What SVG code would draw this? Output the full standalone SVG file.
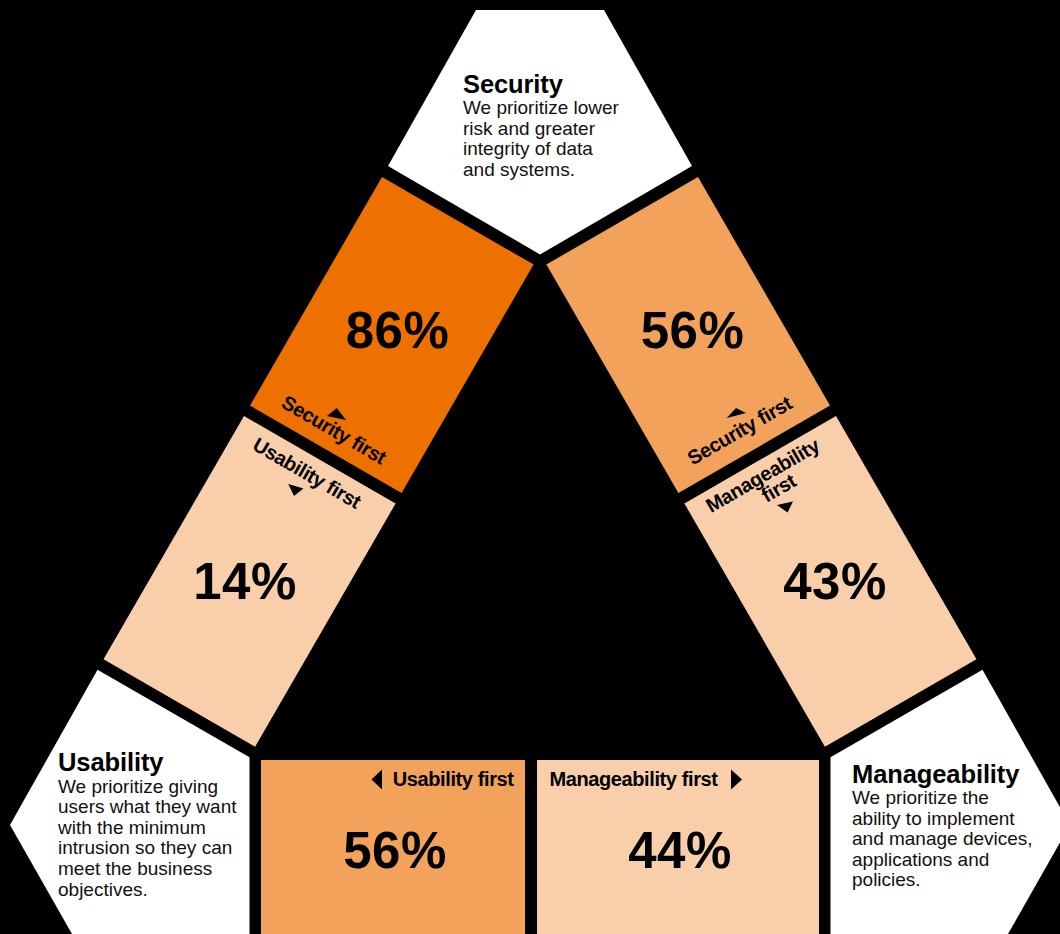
<svg xmlns="http://www.w3.org/2000/svg" width="1060" height="934" viewBox="0 0 1060 934">
  <defs>
    <style>
      .bg { fill: #000000; }
      .white { fill: #FFFFFF; }
      .dark { fill: #EE7100; }
      .mid { fill: #F2A25A; }
      .light { fill: #F9CFAB; }
      .pct { font-family: "Liberation Sans", Arial, sans-serif; font-weight: 700; font-size: 51px; fill: #000; text-anchor: middle; letter-spacing: 0.5px; }
      .lbl { font-family: "Liberation Sans", Arial, sans-serif; font-weight: 700; font-size: 20px; fill: #000; letter-spacing: -0.4px; }
      .mid-a { text-anchor: middle; }
      .end-a { text-anchor: end; }
      .head { font-family: "Liberation Sans", Arial, sans-serif; font-weight: 700; font-size: 25.5px; fill: #000; letter-spacing: -0.1px; }
      .body { font-family: "Liberation Sans", Arial, sans-serif; font-size: 19px; fill: #111; }
      .tri { fill: #000; }
    </style>
  </defs>

  <rect class="bg" x="0" y="0" width="1060" height="934"/>

  <g id="connectors"/>

  <!-- Security node -->
  <g id="node-security">
    <polygon class="white" points="476,10 604,10 692,166 540,254.5 388,166"/>
    <text class="head" x="463" y="93">Security</text>
    <text class="body" x="463" y="114">We prioritize lower</text>
    <text class="body" x="463" y="134.6">risk and greater</text>
    <text class="body" x="463" y="155.2">integrity of data</text>
    <text class="body" x="463" y="175.8">and systems.</text>
  </g>

  <!-- Usability node -->
  <g id="node-usability">
    <polygon class="white" points="97.5,669.7 249.5,757.2 249.5,934 72,934 10,825"/>
    <text class="head" x="58" y="771">Usability</text>
    <text class="body" x="58" y="792.5">We prioritize giving</text>
    <text class="body" x="58" y="813.1">users what they want</text>
    <text class="body" x="58" y="833.7">with the minimum</text>
    <text class="body" x="58" y="854.3">intrusion so they can</text>
    <text class="body" x="58" y="874.9">meet the business</text>
    <text class="body" x="58" y="895.5">objectives.</text>
  </g>

  <!-- Manageability node -->
  <g id="node-manageability">
    <polygon class="white" points="982.5,669.7 830.5,757.2 830.5,934 1008,934 1070,825"/>
    <text class="head" x="852" y="782.5">Manageability</text>
    <text class="body" x="852" y="804">We prioritize the</text>
    <text class="body" x="852" y="824.6">ability to implement</text>
    <text class="body" x="852" y="845.2">and manage devices,</text>
    <text class="body" x="852" y="865.8">applications and</text>
    <text class="body" x="852" y="886.4">policies.</text>
  </g>

  <!-- Security vs Usability: security share -->
  <g id="node-sec-over-usa">
    <polygon class="dark" points="382,177 533.6,264.5 401.6,493.1 250,405.6"/>
    <text class="pct" x="397.5" y="348">86%</text>
    <polygon class="tri" points="327,416 346,420 336.7,408"/>
    <text class="lbl mid-a" transform="translate(330.5,435.7) rotate(30)" x="0" y="0">Security first</text>
  </g>

  <!-- Security vs Usability: usability share -->
  <g id="node-usa-over-sec">
    <polygon class="light" points="244,416 395.6,503.5 255.1,746.8 103.5,659.3"/>
    <text class="pct" x="245" y="599">14%</text>
    <text class="lbl mid-a" transform="translate(303.5,479) rotate(30)" x="0" y="0">Usability first</text>
    <polygon class="tri" points="288.3,484 303.5,488.5 294,496"/>
  </g>

  <!-- Security vs Manageability: security share -->
  <g id="node-sec-over-man">
    <polygon class="mid" points="698,177 546.4,264.5 678.4,493.1 830,405.6"/>
    <text class="pct" x="692.5" y="348">56%</text>
    <polygon class="tri" points="726.7,418 746,413 736,408"/>
    <text class="lbl mid-a" transform="translate(743,436.5) rotate(-30)" x="0" y="0">Security first</text>
  </g>

  <!-- Security vs Manageability: manageability share -->
  <g id="node-man-over-sec">
    <polygon class="light" points="836,416 684.4,503.5 824.9,746.8 976.5,659.3"/>
    <text class="pct" x="835" y="599">43%</text>
    <text class="lbl mid-a" transform="translate(766,481.5) rotate(-30)" x="0" y="0">Manageability</text>
    <text class="lbl mid-a" transform="translate(782,494) rotate(-30)" x="0" y="0">first</text>
    <polygon class="tri" points="777,505 793,501.5 787.5,512.5"/>
  </g>

  <!-- Usability vs Manageability: usability share -->
  <g id="node-usa-over-man">
    <rect class="mid" x="261" y="760" width="264" height="174"/>
    <polygon class="tri" points="382,769.5 382,789.5 371.5,779.5"/>
    <text class="lbl end-a" x="513.5" y="786">Usability first</text>
    <text class="pct" x="395" y="868">56%</text>
  </g>

  <!-- Usability vs Manageability: manageability share -->
  <g id="node-man-over-usa">
    <rect class="light" x="537" y="760" width="282" height="174"/>
    <text class="lbl" x="549.5" y="786">Manageability first</text>
    <polygon class="tri" points="731,769.5 731,789.5 742,779.5"/>
    <text class="pct" x="680" y="868">44%</text>
  </g>
</svg>
